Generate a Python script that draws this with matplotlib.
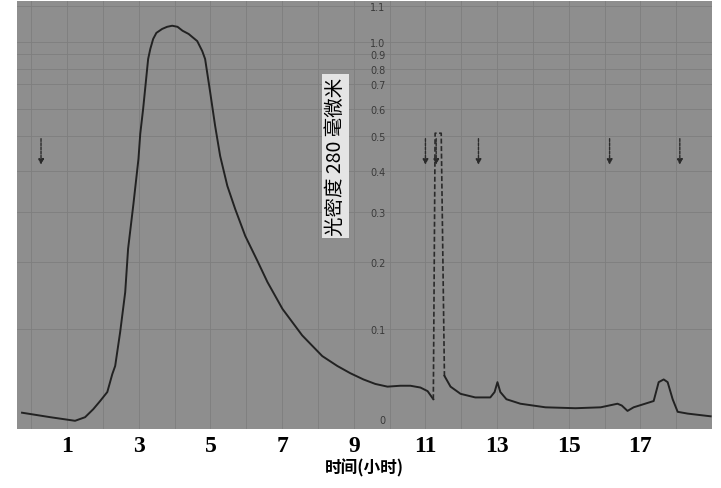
import numpy as np
import matplotlib
matplotlib.use("Agg")
import matplotlib.pyplot as plt

# elution profile (time in hours, optical density at 280 nm)
time_h = [-0.26, 0.53, 1.22, 1.50, 1.73, 1.92, 2.12, 2.26, 2.34, 2.48, 2.62, 2.70,
          2.85, 2.99, 3.04, 3.12, 3.26, 3.32, 3.40, 3.49, 3.65, 3.79, 3.93, 4.08,
          4.22, 4.39, 4.63, 4.77, 4.85, 4.99, 5.13, 5.27, 5.47, 5.69, 5.97, 6.31,
          6.59, 7.01, 7.56, 8.12, 8.54, 8.90, 9.27, 9.60, 9.94, 10.30, 10.58, 10.86,
          11.06, 11.22]
od = [0.007, 0.002, -0.002, 0.002, 0.011, 0.020, 0.030, 0.050, 0.059, 0.097, 0.155, 0.226,
      0.320, 0.435, 0.508, 0.600, 0.867, 0.941, 1.008, 1.025, 1.036, 1.042, 1.045, 1.042,
      1.031, 1.022, 1.002, 0.924, 0.867, 0.668, 0.537, 0.443, 0.364, 0.307, 0.252, 0.202,
      0.170, 0.130, 0.093, 0.070, 0.059, 0.051, 0.044, 0.039, 0.036, 0.037, 0.037, 0.035,
      0.031, 0.022]

# sharp peak, traced as a broken (dashed) pen line
spike_time = [11.22, 11.27, 11.44, 11.53]
spike_od = [0.022, 0.51, 0.51, 0.048]

time_tail = [11.53, 11.70, 11.98, 12.39, 12.81, 12.93, 13.01, 13.09, 13.26, 13.65,
             14.35, 15.19, 15.89, 16.36, 16.48, 16.64, 16.81, 17.37, 17.51, 17.65,
             17.76, 17.90, 18.04, 18.32, 18.96]
od_tail = [0.048, 0.036, 0.028, 0.024, 0.024, 0.030, 0.041, 0.030, 0.022, 0.017,
           0.013, 0.012, 0.013, 0.017, 0.015, 0.009, 0.013, 0.020, 0.041, 0.044,
           0.041, 0.022, 0.008, 0.006, 0.003]

# fraction marks (arrows)
arrow_time = [0.27, 11.0, 11.3, 12.48, 16.14, 18.1]

x_ticks = [1, 3, 5, 7, 9, 11, 13, 15, 17]
y_ticks = [0, 0.1, 0.2, 0.3, 0.4, 0.5, 0.6, 0.7, 0.8, 0.9, 1.0, 1.1]
y_ticklabels = ["0", "0.1", "0.2", "0.3", "0.4", "0.5", "0.6", "0.7", "0.8", "0.9", "1.0", "1.1"]

# printed OD scale of the recorder paper (non linear)
paper_od = [-0.1, 0, 0.1, 0.2, 0.3, 0.4, 0.5, 0.6, 0.7, 0.8, 0.9, 1.0, 1.1, 1.5]
paper_pos = [-0.214, 0, 0.214, 0.374, 0.493, 0.590, 0.674, 0.738, 0.798, 0.833, 0.869, 0.898, 0.983, 1.323]


def fwd(v):
    return np.interp(v, paper_od, paper_pos)


def inv(v):
    return np.interp(v, paper_pos, paper_od)


fig = plt.figure(figsize=(7.21, 4.89), dpi=100)
ax = fig.add_axes([0.0236, 0.1207, 0.964, 0.875])
ax.set_facecolor("#8e8e8e")
ax.set_yscale("function", functions=(fwd, inv))
ax.set_xlim(-0.40, 19.0)
ax.set_ylim(-0.0111, 1.114)

# chart paper grid
for t in range(0, 20):
    ax.axvline(t, color="#7e7e7e", lw=0.6, zorder=0)
for v in y_ticks[1:]:
    ax.axhline(v, color="#7e7e7e", lw=0.6, zorder=0)

ax.plot(time_h, od, color="#222222", lw=1.4)
ax.plot(spike_time, spike_od, color="#2a2a2a", lw=1.2, ls=(0, (3, 1.5)))
ax.plot(time_tail, od_tail, color="#222222", lw=1.4)

for t in arrow_time:
    ax.annotate("", xy=(t, 0.41), xytext=(t, 0.5),
                arrowprops=dict(arrowstyle="-|>", color="#2a2a2a", lw=1.0,
                                ls=(0, (2, 1)), mutation_scale=8))

for s in ["top", "right", "bottom"]:
    ax.spines[s].set_visible(False)
ax.spines["left"].set_position(("data", 10.0))
ax.spines["left"].set_visible(False)

ax.set_yticks(y_ticks)
ax.set_yticklabels(y_ticklabels)
ax.tick_params(axis="y", length=0, pad=3, labelsize=7, labelcolor="#3a3a3a")

ax.set_xticks(x_ticks)
ax.set_xticklabels([str(v) for v in x_ticks], family="Liberation Serif",
                   fontweight="bold", fontsize=17)
ax.tick_params(axis="x", length=0, pad=4)

ax.set_xlabel("时间(小时)", family=["Noto Sans CJK SC", "DejaVu Sans"],
              fontweight="bold", fontsize=12, labelpad=2)

ax.text(0.458, 0.638, "光密度 280 毫微米", transform=ax.transAxes, rotation=90,
        ha="center", va="center", fontsize=14,
        family=["Noto Sans CJK SC", "DejaVu Sans"],
        bbox=dict(facecolor="#e4e4e4", edgecolor="none", pad=2))

fig.savefig("out.png", dpi=100)
